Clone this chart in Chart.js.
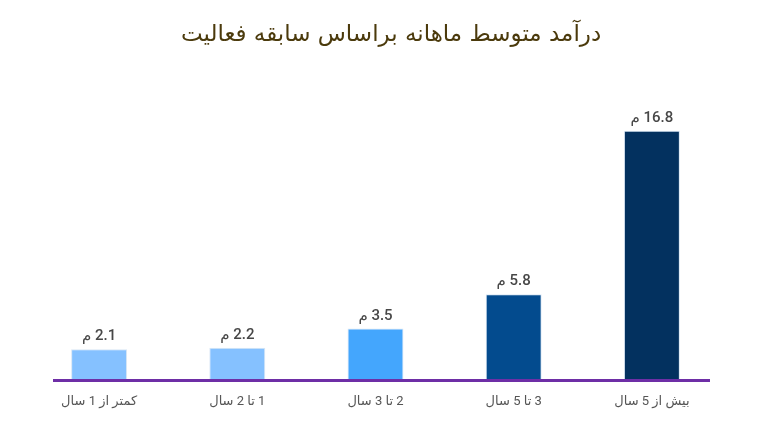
<!DOCTYPE html>
<html lang="fa" dir="rtl">
<head>
<meta charset="utf-8">
<script src="https://cdn.jsdelivr.net/npm/chart.js@4"></script>
<style>
  html, body { margin: 0; padding: 0; background: #fff; }
  #wrap { width: 760px; height: 424px; }
</style>
</head>
<body>
<div id="wrap"><canvas id="incomeChart" dir="rtl"></canvas></div>
<script>
const chartTitle = 'درآمد متوسط ماهانه براساس سابقه فعالیت';
const categories = ['کمتر از 1 سال', '1 تا 2 سال', '2 تا 3 سال', '3 تا 5 سال', 'بیش از 5 سال'];
const incomeValues = [2.1, 2.2, 3.5, 5.8, 16.8];
const valueUnit = 'م';
const barColors = ['#85c1ff', '#85c1ff', '#44a6fd', '#034b8e', '#03315f'];

/* title + baseline + value labels */
const decorations = {
  id: 'decorations',
  afterDatasetsDraw(chart) {
    const { ctx, chartArea } = chart;
    ctx.save();
    ctx.direction = 'rtl';

    // purple baseline
    ctx.strokeStyle = '#6e2ea6';
    ctx.lineWidth = 3;
    ctx.beginPath();
    ctx.moveTo(chartArea.left + 23, chartArea.bottom);
    ctx.lineTo(chartArea.right - 11, chartArea.bottom);
    ctx.stroke();

    // value labels
    ctx.fillStyle = '#474747';
    ctx.font = '500 15px Roboto, "DejaVu Sans", sans-serif';
    ctx.textAlign = 'center';
    ctx.textBaseline = 'bottom';
    chart.getDatasetMeta(0).data.forEach((bar, i) => {
      ctx.fillText(incomeValues[i] + ' ' + valueUnit, bar.x, bar.y - 5);
    });

    // title
    ctx.fillStyle = '#4b3a0c';
    ctx.font = '23px "DejaVu Sans", sans-serif';
    ctx.textBaseline = 'middle';
    ctx.fillText(chartTitle, 391, 35);
    ctx.restore();
  }
};

new Chart(document.getElementById('incomeChart'), {
  type: 'bar',
  data: {
    labels: categories,
    datasets: [{
      data: incomeValues,
      backgroundColor: barColors,
      borderColor: '#d8e6f4',
      borderWidth: 1,
      categoryPercentage: 1,
      barPercentage: 0.405
    }]
  },
  options: {
    responsive: true,
    maintainAspectRatio: false,
    animation: false,
    layout: { padding: { left: 30, right: 39, top: 113, bottom: 0 } },
    plugins: {
      legend: { display: false },
      tooltip: { enabled: false }
    },
    scales: {
      x: {
        grid: { display: false, drawTicks: false },
        border: { display: false },
        ticks: {
          padding: 14,
          color: '#555',
          font: { family: 'Roboto, "DejaVu Sans", sans-serif', size: 13 }
        }
      },
      y: {
        display: false,
        min: 0,
        max: 18
      }
    }
  },
  plugins: [decorations]
});
</script>
</body>
</html>
